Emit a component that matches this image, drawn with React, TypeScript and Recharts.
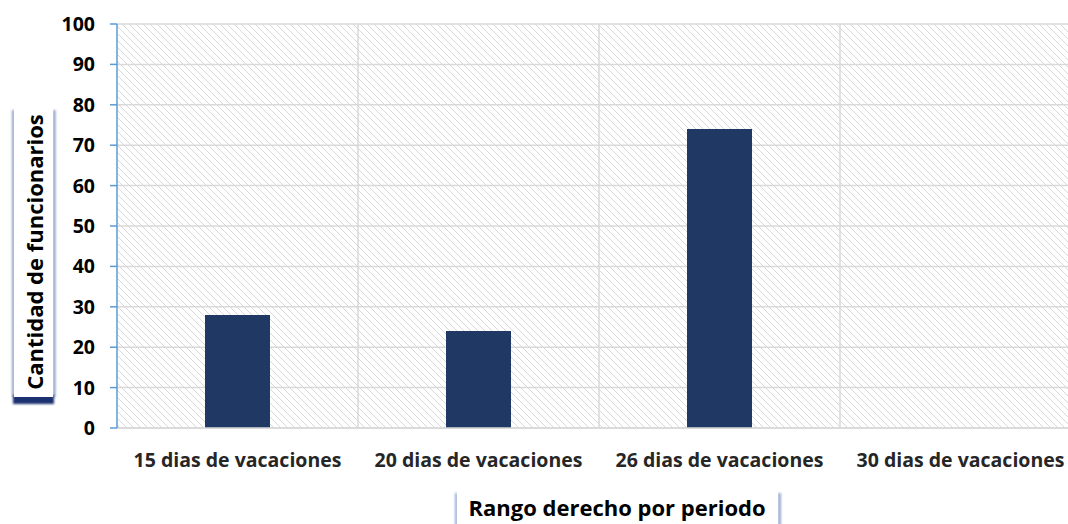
import React from 'react';
import { BarChart, Bar, XAxis, YAxis, CartesianGrid } from 'recharts';

const categories = ['15 dias de vacaciones', '20 dias de vacaciones', '26 dias de vacaciones', '30 dias de vacaciones'];
const values = [28, 24, 74, 0];
const yTicks = [0, 10, 20, 30, 40, 50, 60, 70, 80, 90, 100];
const yTitle = 'Cantidad de funcionarios';
const xTitle = 'Rango derecho por periodo';

const data = categories.map((c, i) => ({ name: c, value: values[i] }));

const FONT = '"Open Sans", "Noto Sans", sans-serif';

const XTick = (props: any) => {
  const { x, y, payload } = props;
  return (
    <text x={x} y={y + 37} textAnchor="middle" fontFamily={FONT} fontWeight={700} fontSize={19.5} fill="#262626">
      {payload.value}
    </text>
  );
};

const YTick = (props: any) => {
  const { x, y, payload } = props;
  return (
    <text x={x} y={y + 7} textAnchor="end" fontFamily={FONT} fontWeight={700} fontSize={19.5} fill="#000">
      {payload.value}
    </text>
  );
};

const YTitle = () => (
  <g>
    <rect x={12} y={110} width={2.5} height={287} fill="#8b9dc7" filter="url(#blur1)" />
    <rect x={53} y={110} width={2.5} height={287} fill="#8b9dc7" filter="url(#blur1)" />
    <rect x={13} y={395} width={41} height={9} fill="#1f3070" filter="url(#blur1)" />
    <rect x={14} y={104} width={39} height={293} fill="#ffffff" />
    <text
      x={0}
      y={0}
      transform="translate(43,252) rotate(-90)"
      textAnchor="middle"
      fontFamily={FONT}
      fontWeight={700}
      fontSize={22}
      fill="#000"
    >
      {yTitle}
    </text>
  </g>
);

const XTitle = () => (
  <g>
    <rect x={455} y={493} width={2.5} height={40} fill="#9aaad4" filter="url(#blur1)" />
    <rect x={778} y={493} width={3} height={40} fill="#9aaad4" filter="url(#blur1)" />
    <rect x={457} y={488} width={321} height={40} fill="#ffffff" />
    <text x={617} y={516} textAnchor="middle" fontFamily={FONT} fontWeight={700} fontSize={22} fill="#000">
      {xTitle}
    </text>
  </g>
);

export default function App() {
  return (
    <div style={{ position: 'absolute', left: 0, top: 0, width: 1068, height: 524, overflow: 'hidden', background: '#fff' }}>
      <BarChart
        width={1100}
        height={524}
        data={data}
        margin={{ top: 24, right: 19, left: 0, bottom: 0 }}
      >
        <defs>
          <pattern id="hatch" patternUnits="userSpaceOnUse" width={7} height={7}>
            <rect width={7} height={7} fill="#ffffff" />
            <path d="M0,0 L7,7 M-1,6 L1,8 M6,-1 L8,1" stroke="#d9d9d9" strokeWidth={1} />
          </pattern>
          <filter id="blur1" x="-200%" y="-20%" width="500%" height="140%">
            <feGaussianBlur stdDeviation={1} />
          </filter>
        </defs>
        <CartesianGrid
          fill="url(#hatch)"
          fillOpacity={1}
          stroke="#d9d9d9"
          strokeWidth={1.5}
          verticalCoordinatesGenerator={(p: any) => {
            const off = p.offset;
            return [1, 2, 3].map((i) => off.left + (i * off.width) / categories.length);
          }}
        />
        <XAxis
          dataKey="name"
          height={96}
          axisLine={{ stroke: '#d9d9d9', strokeWidth: 1.5 }}
          tickLine={false}
          tickSize={0}
          tick={<XTick />}
          interval={0}
          label={{ content: () => <XTitle /> }}
        />
        <YAxis
          width={117}
          domain={[0, 100]}
          ticks={yTicks}
          interval={0}
          axisLine={{ stroke: '#5b9bd5', strokeWidth: 1.5 }}
          tickLine={{ stroke: '#5b9bd5', strokeWidth: 1.5 }}
          tickSize={7}
          tickMargin={15}
          tick={<YTick />}
          label={{ content: () => <YTitle /> }}
        />
        <Bar dataKey="value" fill="#1f3864" barSize={65} isAnimationActive={false} />
      </BarChart>
    </div>
  );
}
